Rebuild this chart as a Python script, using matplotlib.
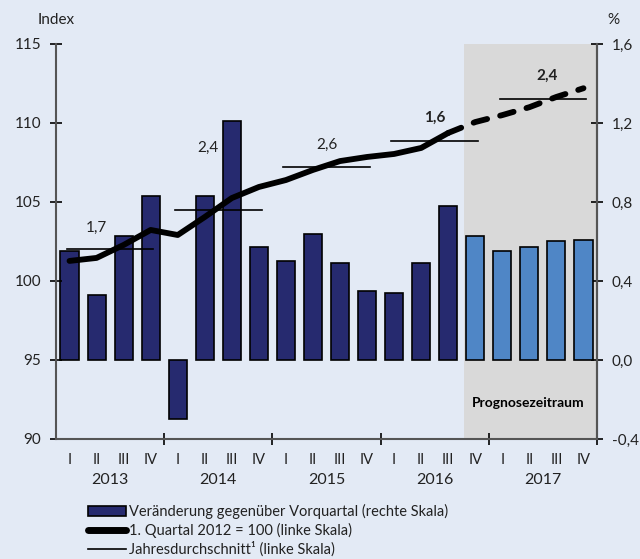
import matplotlib.pyplot as plt
from matplotlib.patches import Patch
from matplotlib.lines import Line2D
import matplotlib.transforms as mtransforms

plt.rcParams['font.family'] = ['Lato', 'DejaVu Sans']

# Daten
years = ['2013', '2014', '2015', '2016', '2017']
quarters = ['I', 'II', 'III', 'IV'] * 5
change = [0.55, 0.33, 0.63, 0.83, -0.30, 0.83, 1.21, 0.57,
          0.50, 0.64, 0.49, 0.35, 0.34, 0.49, 0.78, 0.63,
          0.55, 0.57, 0.60, 0.61]
index = [101.27, 101.46, 102.28, 103.23, 102.91, 104.05, 105.25, 105.95,
         106.39, 107.03, 107.59, 107.85, 108.04, 108.42, 109.37, 110.06,
         110.5, 111.0, 111.65, 112.2]
annual_avg = [102.04, 104.47, 107.2, 108.88, 111.52]
annual_label = ['1,7', '2,4', '2,6', '1,6', '2,4']
label_pos = [(1.0, 103.35), (5.1, 108.42), (9.5, 108.6), (13.5, 110.3), (17.65, 112.97)]
label_bold = [False, False, False, True, True]
n_hist = 15  # ab 2016 IV Prognose

bg = '#e3eaf5'
navy = '#262a6f'
light = '#4f86c6'
axcol = '#555555'

fig = plt.figure(figsize=(6.4, 5.59), dpi=100, facecolor=bg)
ax = fig.add_axes([0.0875, 0.2147, 0.8453, 0.7066])
ax2 = ax.twinx()
ax.set_zorder(2)
ax.patch.set_visible(False)
ax2.patch.set_facecolor(bg)

x = list(range(len(change)))

# Prognosebereich
ax2.axvspan(14.58, 19.5, color='#d9d9d9', zorder=0, lw=0)

cols = [navy] * n_hist + [light] * (len(change) - n_hist)
ax2.bar(x, change, width=0.67, color=cols, edgecolor='black', linewidth=1.2, zorder=2)
ax2.set_ylim(-0.4, 1.6)
rticks = [-0.4, 0.0, 0.4, 0.8, 1.2, 1.6]
ax2.set_yticks(rticks)
ax2.set_yticklabels([f'{v:.1f}'.replace('.', ',') for v in rticks])

# Index-Linie
ax.plot(x[:15], index[:15], color='black', lw=4.2, solid_capstyle='round',
        solid_joinstyle='round', zorder=3)
ax.plot(x[14:], index[14:], color='black', lw=4.2, dashes=(2.4, 2.3),
        dash_capstyle='round', zorder=3)

# Jahresdurchschnitte
for i, avg in enumerate(annual_avg):
    ax.plot([4 * i - 0.1, 4 * i + 3.1], [avg, avg], color='black', lw=1.2, zorder=2.5)
    lx, ly = label_pos[i]
    ax.text(lx, ly, annual_label[i], ha='center', va='center', fontsize=11,
            fontweight='bold' if label_bold[i] else 'normal', color='#222222')

ax.set_ylim(90, 115)
ax.set_xlim(-0.5, 19.5)
ax.set_yticks([90, 95, 100, 105, 110, 115])

ax.text(16.95, 92.3, 'Prognosezeitraum', ha='center', va='center', fontsize=10,
        fontweight='bold', color='black')

# Achsen
for a in (ax, ax2):
    a.spines['top'].set_visible(False)
    for s in ['left', 'right', 'bottom']:
        a.spines[s].set_color(axcol)
        a.spines[s].set_linewidth(1.5)
ax2.spines['left'].set_visible(False)
ax2.spines['bottom'].set_visible(False)

for a in (ax, ax2):
    a.tick_params(axis='y', direction='inout', length=9, width=1.2, color='black',
                  labelsize=11, labelcolor='#222222', pad=6)

ax.set_xticks([3.5, 7.5, 11.5, 15.5, 19.5])
ax.set_xticklabels([])
ax.set_xticks(x, minor=True)
ax.set_xticklabels(quarters, minor=True)
ax.tick_params(axis='x', which='major', direction='inout', length=9, width=1.2, color='black')
ax.tick_params(axis='x', which='minor', length=0, labelsize=10.5, labelcolor='#222222', pad=10)

trans = mtransforms.blended_transform_factory(ax.transData, ax.transAxes)
for i, y in enumerate(years):
    ax.text(4 * i + 1.5, -0.085, y, transform=trans, ha='center', va='top', fontsize=11.5,
            color='#222222')

fig.text(38 / 640, 1 - 20 / 559, 'Index', ha='left', va='center', fontsize=11, color='#222222')
fig.text(607 / 640, 1 - 20 / 559, '%', ha='left', va='center', fontsize=11, color='#222222')

handles = [Patch(facecolor=navy, edgecolor='black', linewidth=1.2),
           Line2D([0], [0], color='black', lw=5, solid_capstyle='round'),
           Line2D([0], [0], color='black', lw=1.2)]
labels = ['Veränderung gegenüber Vorquartal (rechte Skala)',
          '1. Quartal 2012 = 100 (linke Skala)',
          'Jahresdurchschnitt¹ (linke Skala)']
fig.legend(handles, labels, loc='upper left', bbox_to_anchor=(88 / 640, 1 - 504 / 559),
           frameon=False, fontsize=10.5, handlelength=2.6, handleheight=0.7,
           handletextpad=0.2, labelspacing=0.25, borderaxespad=0, borderpad=0,
           labelcolor='#222222')

fig.savefig('out.png', dpi=100, facecolor=bg)
